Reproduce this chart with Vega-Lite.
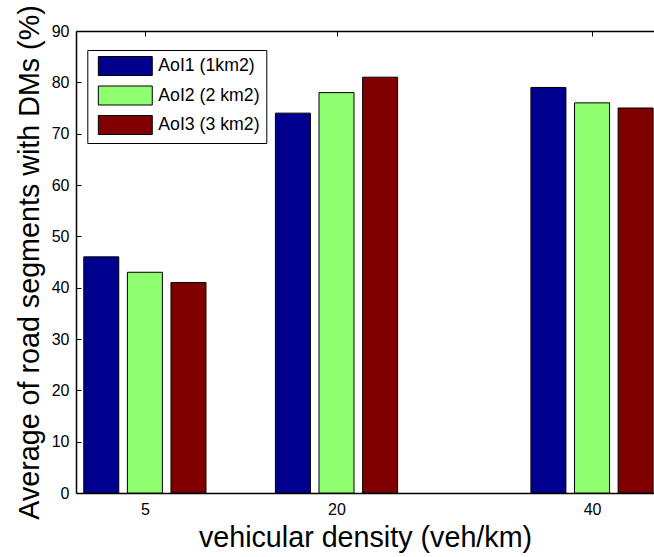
{
  "$schema": "https://vega.github.io/schema/vega-lite/v6.json",
  "width": 578,
  "height": 462,
  "autosize": "none",
  "padding": {"left": 76, "top": 31, "right": 0, "bottom": 64},
  "background": "white",
  "data": {
    "values": [
      {"density": 5, "series": "AoI1 (1km2)", "value": 46},
      {"density": 5, "series": "AoI2 (2 km2)", "value": 43},
      {"density": 5, "series": "AoI3 (3 km2)", "value": 41},
      {"density": 20, "series": "AoI1 (1km2)", "value": 74},
      {"density": 20, "series": "AoI2 (2 km2)", "value": 78},
      {"density": 20, "series": "AoI3 (3 km2)", "value": 81},
      {"density": 40, "series": "AoI1 (1km2)", "value": 79},
      {"density": 40, "series": "AoI2 (2 km2)", "value": 76},
      {"density": 40, "series": "AoI3 (3 km2)", "value": 75}
    ]
  },
  "encoding": {
    "y": {
      "field": "value",
      "type": "quantitative",
      "scale": {"domain": [0, 90], "nice": false},
      "axis": {
        "values": [0, 10, 20, 30, 40, 50, 60, 70, 80, 90],
        "title": "Average of road segments with DMs (%)",
        "titleFontSize": 28.7,
        "titlePadding": 7,
        "tickSize": -5,
        "labelPadding": 12
      }
    },
    "color": {
      "field": "series",
      "type": "nominal",
      "scale": {
        "domain": ["AoI1 (1km2)", "AoI2 (2 km2)", "AoI3 (3 km2)"],
        "range": ["#00008F", "#8FFF70", "#800000"]
      },
      "legend": {
        "title": null,
        "orient": "none",
        "legendX": 11.3,
        "legendY": 19,
        "padding": 6,
        "strokeColor": "black",
        "fillColor": "white",
        "symbolType": "M-2.84,-1H2.84V1H-2.84Z",
        "symbolSize": 361,
        "symbolStrokeColor": "black",
        "symbolStrokeWidth": 1,
        "symbolOpacity": 1,
        "symbolOffset": 22,
        "labelOffset": 23,
        "labelFontSize": 17.7,
        "labelColor": "black",
        "rowPadding": 5.5,
        "labelLimit": 300
      }
    }
  },
  "layer": [
    {
      "transform": [{"filter": "datum.series === 'AoI1 (1km2)'"}],
      "mark": {"type": "bar", "width": 35, "xOffset": -43.6, "stroke": "black", "strokeWidth": 1, "opacity": 1},
      "encoding": {
        "x": {
          "field": "density",
          "type": "quantitative",
          "scale": {"domain": [0, 44.46], "nice": false, "zero": false},
          "axis": {
            "values": [5, 20, 40],
            "title": "vehicular density (veh/km)",
            "titleFontSize": 28.7,
            "titlePadding": 6,
            "tickSize": -5,
            "labelPadding": 13
          }
        }
      }
    },
    {
      "transform": [{"filter": "datum.series === 'AoI2 (2 km2)'"}],
      "mark": {"type": "bar", "width": 35, "xOffset": 0, "stroke": "black", "strokeWidth": 1, "opacity": 1},
      "encoding": {
        "x": {
          "field": "density",
          "type": "quantitative",
          "scale": {"domain": [0, 44.46], "nice": false, "zero": false},
          "axis": {
            "orient": "top",
            "values": [5, 20, 40],
            "labels": false,
            "title": null,
            "tickSize": -5
          }
        }
      }
    },
    {
      "transform": [{"filter": "datum.series === 'AoI3 (3 km2)'"}],
      "mark": {"type": "bar", "width": 35, "xOffset": 43.6, "stroke": "black", "strokeWidth": 1, "opacity": 1},
      "encoding": {
        "x": {
          "field": "density",
          "type": "quantitative",
          "scale": {"domain": [0, 44.46], "nice": false, "zero": false},
          "axis": null
        }
      }
    }
  ],
  "resolve": {"axis": {"x": "independent"}},
  "config": {
    "font": "Liberation Sans",
    "view": {"stroke": null},
    "axis": {
      "grid": false,
      "labelFont": "Liberation Sans",
      "labelFontSize": 16,
      "labelColor": "black",
      "titleFont": "Liberation Sans",
      "titleFontWeight": "normal",
      "titleColor": "black",
      "tickColor": "black",
      "domainColor": "black",
      "domainWidth": 1.5,
      "tickWidth": 1
    },
    "legend": {
      "labelFont": "Liberation Sans"
    }
  }
}
